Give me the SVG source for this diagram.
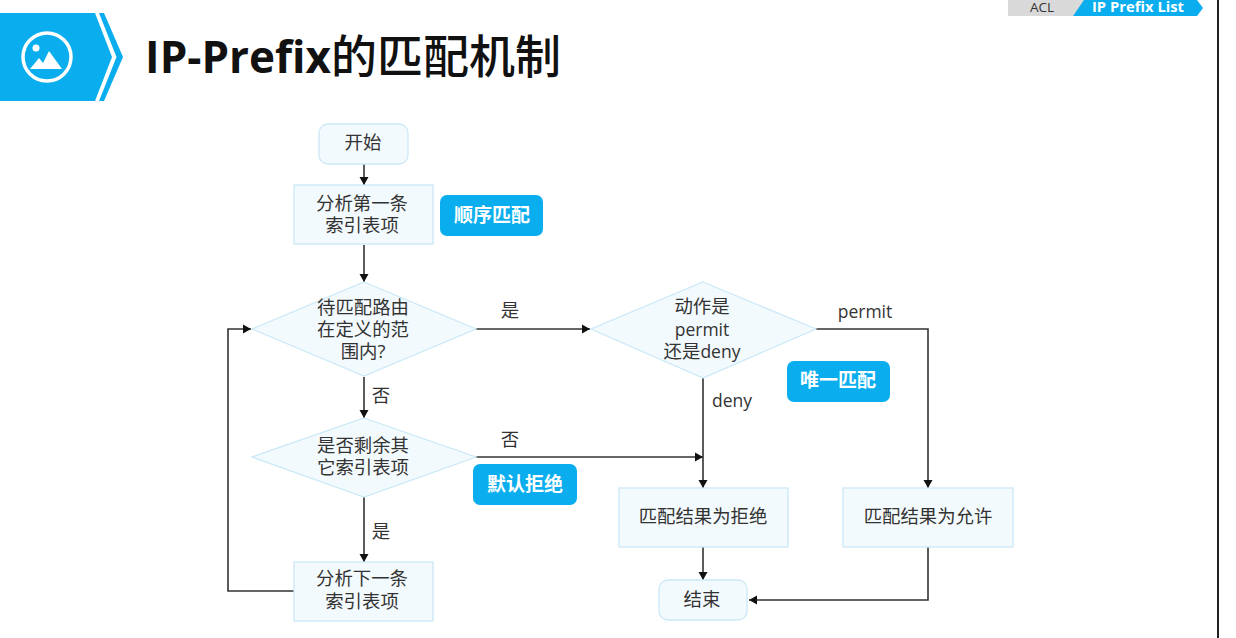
<svg xmlns="http://www.w3.org/2000/svg" width="1236" height="638" viewBox="0 0 1236 638">
<style>
text{font-family:"Open Sans","Noto Sans CJK SC","Noto Sans",sans-serif;text-anchor:middle;fill:#333}
.n{fill:#f3fafd;stroke:#cbe9f6;stroke-width:1.3}
.t{font-size:18.400px}
.e{font-size:17.500px}
.b{fill:#0aaeee}
.bt{font-size:19px;font-weight:700;fill:#fff}
.c{fill:none;stroke:#333;stroke-width:1.600;marker-end:url(#a)}
</style>
<defs><marker id="a" markerUnits="userSpaceOnUse" markerWidth="9" markerHeight="10" refX="8" refY="5" orient="auto"><path d="M0 0.500L8 5L0 9.500Z" fill="#111"/></marker></defs>
<rect width="1236" height="638" fill="#fff"/>
<path d="M1218 0V638" stroke="#222" stroke-width="2" fill="none"/>
<g id="header">
<path d="M0 13H95L112 57L95 101H0Z" fill="#0aaeee"/>
<path d="M99 13H104L123 57L104 101H99L116.500 57Z" fill="#0aaeee"/>
<circle cx="47" cy="57" r="24" fill="none" stroke="#fff" stroke-width="3.500"/>
<circle cx="36" cy="48" r="3.500" fill="#fff"/>
<path d="M30 69L39 58L43 63L49 51L62 69Z" fill="#fff"/>
<text x="353" y="73" style="font-size:44px;font-weight:700;fill:#111"><tspan>IP-Prefix</tspan><tspan style="font-size:46px;font-weight:500">的匹配机制</tspan></text>
</g>
<g id="breadcrumb">
<path d="M1008 0H1086L1073 16H1008Z" fill="#d9d9d9"/>
<text x="1042" y="12" style="font-size:13.500px">ACL</text>
<path d="M1073 0H1197L1203 8L1197 16H1073L1084 0Z" fill="#0aaeee"/>
<text x="1138" y="12" style="font-size:14.800px;font-weight:700;fill:#fff">IP Prefix List</text>
</g>
<g id="connectors">
<path class="c" d="M364 164V185"/>
<path class="c" d="M364 245V282"/>
<path class="c" d="M476 329H590"/>
<path class="c" d="M364 377V418"/>
<path class="c" d="M364 497V562"/>
<path class="c" d="M294 591H228V329H251"/>
<path class="c" d="M703 378V488"/>
<path class="c" d="M476 457H703"/>
<path class="c" d="M816 329H928V488"/>
<path class="c" d="M703 547V580"/>
<path class="c" d="M928 547V600H749"/>
</g>
<g id="start"><rect class="n" x="319" y="124" width="89" height="40" rx="9"/><text class="t" x="363" y="149">开始</text></g>
<g id="first"><rect class="n" x="294" y="185" width="139" height="59"/><text class="t" x="362" y="210">分析第一条</text><text class="t" x="362" y="232">索引表项</text></g>
<g id="badge1"><rect class="b" x="440" y="195" width="103" height="41" rx="7"/><text class="bt" x="492" y="222">顺序匹配</text></g>
<g id="d1"><path class="n" d="M364 282L476 329L364 376L252 329Z"/><text class="t" x="363" y="314">待匹配路由</text><text class="t" x="363" y="336">在定义的范</text><text class="t" x="363" y="358">围内?</text></g>
<g id="d2"><path class="n" d="M364 418L476 457L364 497L252 457Z"/><text class="t" x="363" y="452">是否剩余其</text><text class="t" x="363" y="474">它索引表项</text></g>
<g id="next"><rect class="n" x="294" y="562" width="139" height="59"/><text class="t" x="362" y="585">分析下一条</text><text class="t" x="362" y="608">索引表项</text></g>
<g id="badge2"><rect class="b" x="473" y="464" width="104" height="41" rx="7"/><text class="bt" x="525" y="491">默认拒绝</text></g>
<g id="d3"><path class="n" d="M703 282L816 329L703 378L591 329Z"/><text class="t" x="702" y="313">动作是</text><text class="e" x="702" y="336">permit</text><text class="t" x="702" y="358">还是<tspan class="e">deny</tspan></text></g>
<g id="badge3"><rect class="b" x="787" y="361" width="103" height="41" rx="7"/><text class="bt" x="838" y="387">唯一匹配</text></g>
<g id="deny"><rect class="n" x="619" y="488" width="169" height="59"/><text class="t" x="703" y="523">匹配结果为拒绝</text></g>
<g id="permit"><rect class="n" x="843" y="488" width="170" height="59"/><text class="t" x="928" y="523">匹配结果为允许</text></g>
<g id="end"><rect class="n" x="659" y="580" width="88" height="40" rx="9"/><text class="t" x="702" y="606">结束</text></g>
<g id="labels">
<text class="t" x="510" y="317">是</text>
<text class="t" x="381" y="402">否</text>
<text class="t" x="510" y="446">否</text>
<text class="t" x="381" y="538">是</text>
<text class="e" x="732" y="407">deny</text>
<text class="e" x="865" y="318">permit</text>
</g>
</svg>
